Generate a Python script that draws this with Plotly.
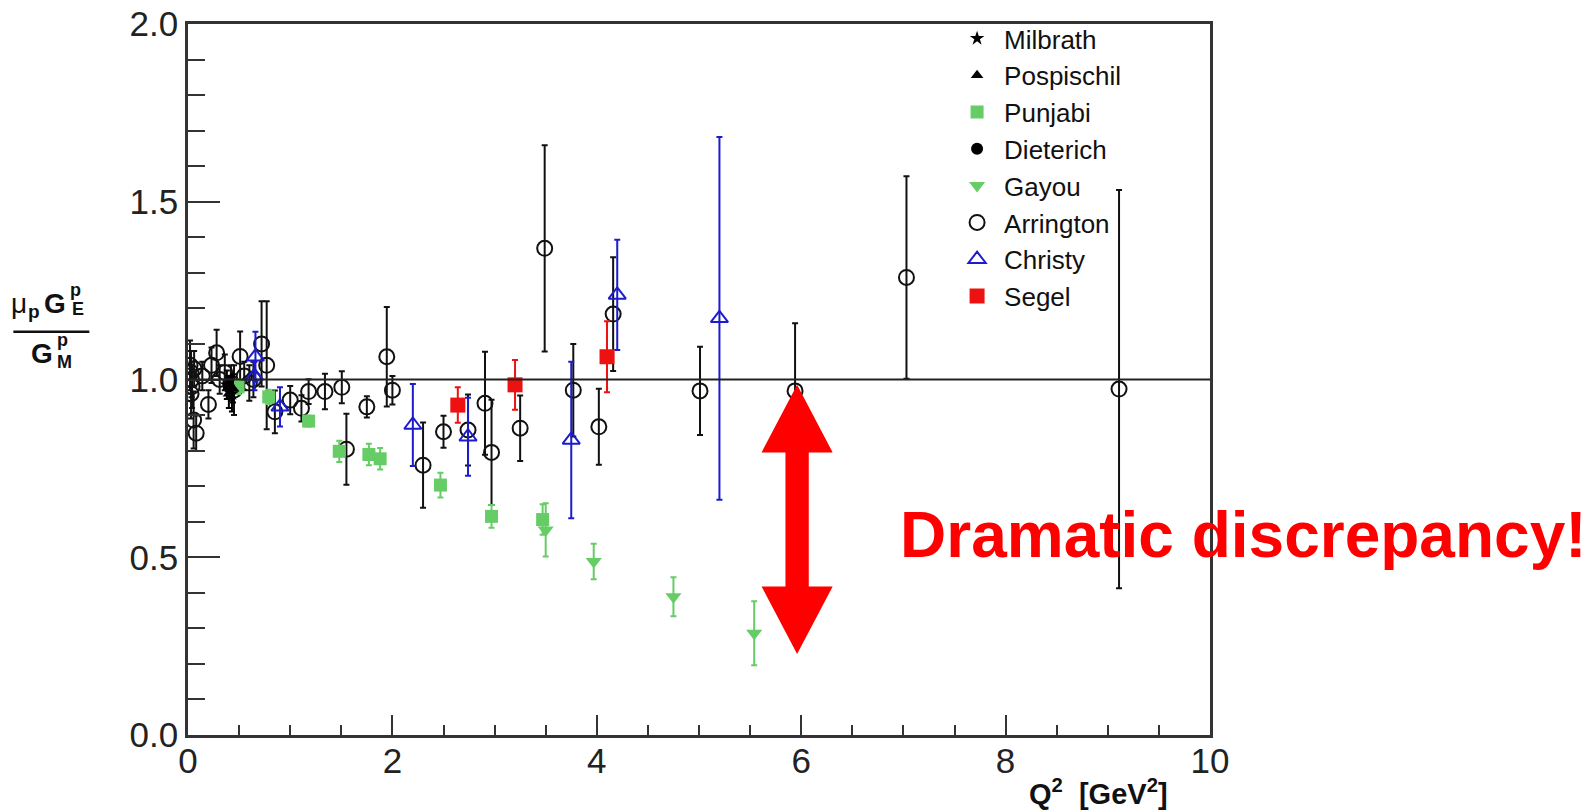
import plotly.graph_objects as go

# ---------------- data ----------------
milbrath_q2 = [0.38, 0.43]
milbrath_r = [0.985, 0.960]
milbrath_e = [0.04, 0.05]

pospischil_q2 = [0.40, 0.44]
pospischil_r = [0.960, 0.975]
pospischil_e = [0.04, 0.04]

punjabi_q2 = [0.49, 0.79, 1.18, 1.48, 1.77, 1.88, 2.47, 2.97, 3.47]
punjabi_r = [0.979, 0.951, 0.883, 0.798, 0.789, 0.777, 0.703, 0.615, 0.606]
punjabi_e = [0.02, 0.02, 0.015, 0.03, 0.03, 0.03, 0.035, 0.032, 0.043]

dieterich_q2 = [0.40]
dieterich_r = [0.979]
dieterich_e = [0.03]

gayou_q2 = [3.50, 3.97, 4.75, 5.54]
gayou_r = [0.577, 0.488, 0.389, 0.286]
gayou_e = [0.075, 0.05, 0.055, 0.09]

arrington_q2 = [0.02, 0.03, 0.035, 0.04, 0.03, 0.06, 0.055, 0.08, 0.14, 0.20,
                0.23, 0.28, 0.31, 0.36, 0.42, 0.45, 0.51, 0.55, 0.60, 0.64,
                0.72, 0.77, 0.85, 1.00, 1.11, 1.18, 1.34, 1.505, 1.55, 1.75,
                1.945, 2.00, 2.30, 2.50, 2.74, 2.906, 2.97, 3.25, 3.49, 3.77,
                4.02, 4.16, 5.01, 5.94, 7.03, 9.11]
arrington_r = [1.04, 1.02, 1.00, 0.98, 0.96, 1.03, 0.886, 0.849, 1.01, 0.930,
               1.04, 1.075, 1.00, 1.02, 0.99, 0.97, 1.065, 1.01, 0.99, 1.00,
               1.10, 1.04, 0.909, 0.942, 0.919, 0.966, 0.966, 0.978, 0.804, 0.923,
               1.064, 0.970, 0.759, 0.853, 0.858, 0.933, 0.795, 0.863, 1.369, 0.970,
               0.867, 1.184, 0.968, 0.968, 1.287, 0.973]
arrington_e = [0.07, 0.06, 0.05, 0.06, 0.07, 0.05, 0.08, 0.05, 0.04, 0.04,
               0.05, 0.065, 0.04, 0.05, 0.05, 0.07, 0.07, 0.04, 0.05, 0.05,
               0.12, 0.18, 0.06, 0.04, 0.037, 0.035, 0.05, 0.045, 0.10, 0.03,
               0.14, 0.04, 0.12, 0.045, 0.10, 0.145, 0.148, 0.092, 0.29, 0.13,
               0.107, 0.16, 0.124, 0.19, 0.285, 0.56]

christy_q2 = [0.65, 0.66, 0.90, 2.20, 2.74, 3.75, 4.20, 5.20]
christy_r = [1.01, 1.064, 0.923, 0.872, 0.839, 0.830, 1.238, 1.172]
christy_e = [0.04, 0.07, 0.055, 0.115, 0.11, 0.22, 0.155, 0.51]

segel_q2 = [2.64, 3.20, 4.10]
segel_r = [0.928, 0.985, 1.064]
segel_e = [0.05, 0.07, 0.10]

# arrow annotation (data units)
arrow_x = 5.96
arrow_top = 0.985
arrow_bottom = 0.228

x_ticks = [0, 2, 4, 6, 8, 10]
y_ticks = [0.0, 0.5, 1.0, 1.5, 2.0]

# ---------------- styling ----------------
OFF = 8                      # default page body margin
W, H = 1589 - OFF, 811 - OFF
PL, PR, PT, PB = 187.7, 1210.0, 24.0, 735.0   # plot area in page pixels
L = PL - OFF
T = PT - OFF
R = W - (PR - OFF)
B = H - (PB - OFF)
GREEN = "#66cc66"
BLUE = "#1c1ccc"
RED = "#ee1111"
FONT = "Liberation Sans, Arial, Helvetica, sans-serif"


def px2paper(px, py):
    return (px - PL) / (PR - PL), (PB - py) / (PB - PT)


fig = go.Figure()


def add(name, x, y, e, symbol, color, size, lw, rank):
    fig.add_trace(go.Scatter(
        x=x, y=y, mode="markers", name=name, legendrank=rank,
        marker=dict(symbol=symbol, color=color, size=size,
                    line=dict(color=color, width=lw)),
        error_y=dict(type="data", array=e, visible=True,
                     color=color, thickness=2, width=3),
    ))


add("Arrington", arrington_q2, arrington_r, arrington_e, "circle-open", "#111111", 15, 2, 6)
add("Punjabi", punjabi_q2, punjabi_r, punjabi_e, "square", GREEN, 13, 0, 3)
add("Gayou", gayou_q2, gayou_r, gayou_e, "triangle-down", GREEN, 14, 0, 5)
add("Christy", christy_q2, christy_r, christy_e, "triangle-up-open", BLUE, 15, 2, 7)
add("Segel", segel_q2, segel_r, segel_e, "square", RED, 15, 0, 8)
add("Dieterich", dieterich_q2, dieterich_r, dieterich_e, "circle", "#000000", 12, 0, 4)
add("Pospischil", pospischil_q2, pospischil_r, pospischil_e, "triangle-up", "#000000", 11, 0, 2)
add("Milbrath", milbrath_q2, milbrath_r, milbrath_e, "star", "#000000", 11, 0, 1)

# horizontal line at 1
fig.add_shape(type="line", xref="x", yref="y", x0=0, x1=10, y0=1, y1=1,
              line=dict(color="#222222", width=2))

# double arrow
hh, sh, hl = 0.348, 0.114, 0.19
pts = [(arrow_x, arrow_top), (arrow_x + hh, arrow_top - hl), (arrow_x + sh, arrow_top - hl),
       (arrow_x + sh, arrow_bottom + hl), (arrow_x + hh, arrow_bottom + hl), (arrow_x, arrow_bottom),
       (arrow_x - hh, arrow_bottom + hl), (arrow_x - sh, arrow_bottom + hl),
       (arrow_x - sh, arrow_top - hl), (arrow_x - hh, arrow_top - hl)]
path = "M " + " L ".join(f"{a},{b}" for a, b in pts) + " Z"
fig.add_shape(type="path", path=path, xref="x", yref="y",
              fillcolor="#ff0000", line=dict(width=0), layer="above")

fig.add_annotation(x=6.95, y=0.563, xref="x", yref="y", xanchor="left", yanchor="middle",
                   text="<b>Dramatic discrepancy!</b>", showarrow=False,
                   font=dict(family=FONT, size=64, color="#ff0000"))


# y-axis title built as a fraction
def lab(text, px, py, size, xanchor="center"):
    xp, yp = px2paper(px, py)
    fig.add_annotation(x=xp, y=yp, xref="paper", yref="paper", text=text, showarrow=False,
                       xanchor=xanchor, yanchor="middle",
                       font=dict(family=FONT, size=size, color="#111111"))


lab("μ", 19, 303, 28)
lab("<b>p</b>", 34, 311, 19)
lab("<b>G</b>", 54.5, 303, 28)
lab("<b>p</b>", 75, 290, 18)
lab("<b>E</b>", 78, 309, 18)
lab("<b>G</b>", 41.5, 353, 28)
lab("<b>p</b>", 62, 340, 18)
lab("<b>M</b>", 64, 362, 18)
x0p, y0p = px2paper(13, 331.7)
x1p, _ = px2paper(89, 331.7)
fig.add_shape(type="line", xref="paper", yref="paper", x0=x0p, x1=x1p, y0=y0p, y1=y0p,
              line=dict(color="#111111", width=2.5))

# x-axis title
xp, yp = px2paper(1170, 792)
fig.add_annotation(x=xp, y=yp, xref="paper", yref="paper", xanchor="right", yanchor="middle",
                   text="<b>Q<sup>2</sup>\u00a0\u00a0[GeV<sup>2</sup>]</b>", showarrow=False,
                   font=dict(family=FONT, size=29, color="#111111"))

lgx, lgy = px2paper(950, 15)
fig.update_layout(
    width=W, height=H, autosize=False,
    margin=dict(l=L, r=R, t=T, b=B, pad=0, autoexpand=False),
    paper_bgcolor="white", plot_bgcolor="white",
    font=dict(family=FONT, color="#222222"),
    showlegend=True,
    legend=dict(x=lgx, y=lgy, xanchor="left", yanchor="top", bgcolor="rgba(0,0,0,0)",
                font=dict(size=26, family=FONT, color="#111111"), itemsizing="trace",
                itemwidth=44, tracegroupgap=0),
)
fig.update_xaxes(range=[0, 10], tickvals=x_ticks, ticks="inside", ticklen=20, tickwidth=2,
                 tickcolor="#333333", showline=True, linecolor="#333333", linewidth=2.5,
                 mirror=True, showgrid=False, zeroline=False, automargin=False,
                 ticklabelstandoff=-7, ticklabeloverflow="allow",
                 tickfont=dict(size=35, family=FONT, color="#222222"),
                 minor=dict(dtick=0.5, ticks="inside", ticklen=10, tickwidth=2, tickcolor="#333333",
                            showgrid=False))
fig.update_yaxes(range=[0, 2], tickvals=y_ticks, tickformat=".1f", ticks="inside", ticklen=32,
                 tickwidth=2, tickcolor="#333333", showline=True, linecolor="#333333",
                 linewidth=2.5, mirror=True, showgrid=False, zeroline=False, automargin=False,
                 ticklabeloverflow="allow",
                 tickfont=dict(size=35, family=FONT, color="#222222"),
                 minor=dict(dtick=0.1, ticks="inside", ticklen=17, tickwidth=2, tickcolor="#333333",
                            showgrid=False))

fig.write_html("out.html")
